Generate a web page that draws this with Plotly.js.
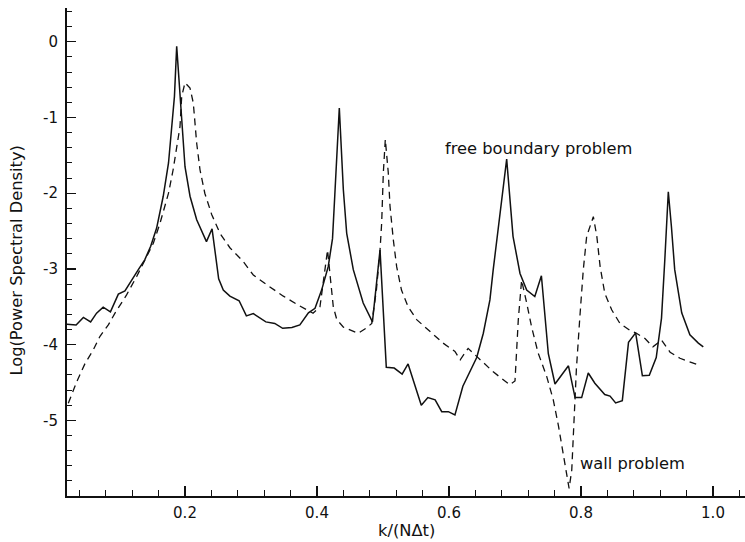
<!DOCTYPE html>
<html>
<head>
<meta charset="utf-8">
<script src="https://cdn.plot.ly/plotly-3.0.1.min.js"></script>
<style>html,body{margin:0;padding:0;background:#fff;}#chart{width:745px;height:542px;}</style>
</head>
<body>
<div id="chart"></div>
<script>
// free boundary problem (solid)
var freeX = [0.021,0.035,0.046,0.057,0.066,0.076,0.087,0.099,0.109,0.119,0.130,0.139,0.148,0.157,0.167,0.175,0.180,0.184,0.1874,0.1924,0.1965,0.200,0.2076,0.2177,0.2325,0.2410,0.2510,0.258,0.268,0.282,0.293,0.3035,0.3225,0.336,0.348,0.362,0.374,0.387,0.397,0.407,0.417,0.4235,0.427,0.4298,0.4338,0.4399,0.445,0.455,0.470,0.484,0.4955,0.5050,0.517,0.529,0.538,0.558,0.568,0.579,0.589,0.599,0.609,0.621,0.642,0.652,0.662,0.667,0.675,0.682,0.6874,0.697,0.7076,0.7177,0.730,0.740,0.7505,0.7606,0.781,0.791,0.801,0.811,0.821,0.836,0.844,0.8525,0.8626,0.872,0.8828,0.893,0.9035,0.914,0.922,0.927,0.931,0.9323,0.937,0.942,0.9526,0.965,0.9778,0.9853];
var freeY = [-3.73,-3.74,-3.64,-3.70,-3.585,-3.505,-3.567,-3.333,-3.29,-3.144,-3.00,-2.88,-2.70,-2.46,-2.04,-1.60,-1.16,-0.72,-0.06,-0.72,-1.16,-1.65,-2.04,-2.35,-2.64,-2.47,-3.13,-3.28,-3.36,-3.42,-3.62,-3.59,-3.70,-3.72,-3.785,-3.775,-3.74,-3.58,-3.52,-3.28,-2.97,-2.60,-2.02,-1.51,-0.873,-1.95,-2.53,-3.01,-3.45,-3.70,-2.75,-4.30,-4.31,-4.39,-4.255,-4.80,-4.70,-4.73,-4.886,-4.886,-4.93,-4.55,-4.17,-3.85,-3.41,-3.01,-2.44,-1.91,-1.55,-2.57,-3.06,-3.28,-3.365,-3.09,-4.12,-4.52,-4.28,-4.70,-4.70,-4.375,-4.51,-4.66,-4.68,-4.77,-4.74,-3.97,-3.845,-4.41,-4.405,-4.17,-3.65,-2.88,-2.22,-1.98,-2.44,-3.01,-3.58,-3.87,-3.98,-4.03];

// wall problem (dashed)
var wallX = [0.0232,0.028,0.036,0.0485,0.061,0.0712,0.0838,0.0939,0.1117,0.1268,0.139,0.152,0.162,0.175,0.182,0.19,0.1924,0.195,0.200,0.2076,0.2126,0.2177,0.2227,0.230,0.2404,0.253,0.268,0.288,0.3035,0.324,0.349,0.374,0.394,0.4045,0.416,0.420,0.4247,0.430,0.440,0.4626,0.475,0.483,0.490,0.4955,0.498,0.5005,0.5035,0.508,0.5106,0.5157,0.5207,0.528,0.538,0.551,0.571,0.591,0.609,0.617,0.629,0.642,0.667,0.692,0.700,0.705,0.710,0.7177,0.725,0.735,0.748,0.758,0.766,0.773,0.778,0.782,0.786,0.788,0.791,0.793,0.798,0.8035,0.8086,0.8187,0.824,0.829,0.836,0.8465,0.859,0.874,0.884,0.897,0.909,0.922,0.935,0.950,0.975];
var wallY = [-4.775,-4.67,-4.49,-4.25,-4.07,-3.89,-3.74,-3.585,-3.34,-3.10,-2.88,-2.66,-2.40,-2.00,-1.69,-1.29,-1.12,-0.72,-0.54,-0.61,-0.81,-1.34,-1.69,-2.00,-2.28,-2.53,-2.72,-2.90,-3.08,-3.21,-3.36,-3.49,-3.585,-3.50,-2.75,-3.10,-3.50,-3.67,-3.77,-3.85,-3.78,-3.72,-3.28,-2.75,-2.39,-1.73,-1.29,-1.73,-2.17,-2.62,-2.97,-3.28,-3.50,-3.67,-3.83,-3.98,-4.09,-4.20,-4.05,-4.16,-4.36,-4.53,-4.48,-3.67,-3.15,-3.45,-3.76,-4.11,-4.42,-4.73,-5.08,-5.44,-5.70,-5.90,-5.66,-5.26,-4.82,-4.33,-3.67,-3.01,-2.57,-2.31,-2.57,-2.97,-3.32,-3.54,-3.72,-3.81,-3.85,-3.92,-4.03,-3.94,-4.10,-4.18,-4.26];

var xTickVals = [0.2,0.4,0.6,0.8,1.0];
var xTickText = ["0.2","0.4","0.6","0.8","1.0"];
var yTickVals = [-5,-4,-3,-2,-1,0];
var yTickText = ["-5","-4","-3","-2","-1","0"];

var labelFree = "free boundary problem";
var labelWall = "wall problem";
var xTitle = "k/(NΔt)";
var yTitle = "Log(Power Spectral Density)";

var font = "DejaVu Sans, Verdana, sans-serif";
var ink = "#111";

var traces = [
  {x: freeX, y: freeY, mode: "lines", type: "scatter", name: labelFree,
   line: {color: ink, width: 1.5}},
  {x: wallX, y: wallY, mode: "lines", type: "scatter", name: labelWall,
   line: {color: ink, width: 1.3, dash: "7px,5px"}}
];

var layout = {
  width: 745, height: 542,
  margin: {l: 67, r: 0, t: 8, b: 46, pad: 0},
  paper_bgcolor: "#fff", plot_bgcolor: "#fff",
  showlegend: false,
  font: {family: font, size: 15, color: ink},
  xaxis: {
    range: [0.0212, 1.0485], showgrid: false, zeroline: false,
    showline: true, linecolor: ink, linewidth: 2,
    tickmode: "array", tickvals: xTickVals, ticktext: xTickText,
    ticks: "inside", ticklen: 10, tickwidth: 1.2, tickcolor: ink,
    ticklabelstandoff: 2,
    minor: {tickmode: "linear", tick0: 0, dtick: 0.04, ticks: "inside", ticklen: 6, tickwidth: 1, tickcolor: ink},
    tickfont: {family: font, size: 15, color: ink}
  },
  yaxis: {
    range: [-6, 0.447], showgrid: false, zeroline: false,
    showline: true, linecolor: ink, linewidth: 2,
    tickmode: "array", tickvals: yTickVals, ticktext: yTickText,
    ticks: "inside", ticklen: 9, tickwidth: 1.2, tickcolor: ink,
    ticklabelstandoff: 4,
    minor: {tickmode: "linear", tick0: 0, dtick: 0.2, ticks: "inside", ticklen: 5, tickwidth: 1, tickcolor: ink},
    tickfont: {family: font, size: 15, color: ink}
  },
  annotations: [
    {x: 0.735, y: -1.41, xref: "x", yref: "y", text: labelFree, showarrow: false,
     font: {family: font, size: 16.3, color: ink}},
    {x: 0.878, y: -5.565, xref: "x", yref: "y", text: labelWall, showarrow: false,
     font: {family: font, size: 16.3, color: ink}},
    {x: 0.5, y: -0.07, xref: "paper", yref: "paper", xanchor: "center", yanchor: "middle",
     text: xTitle, showarrow: false, font: {family: font, size: 16.3, color: ink}},
    {x: 0, y: -2.89, xref: "paper", yref: "y", xanchor: "center", xshift: -50, textangle: -90,
     text: yTitle, showarrow: false, font: {family: font, size: 16.3, color: ink}}
  ]
};

Plotly.newPlot("chart", traces, layout, {displayModeBar: false, staticPlot: true});
</script>
</body>
</html>
